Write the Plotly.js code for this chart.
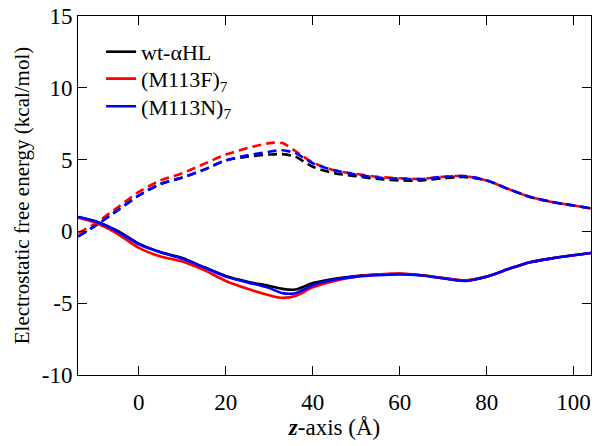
<!DOCTYPE html>
<html>
<head>
<meta charset="utf-8">
<script src="https://cdn.plot.ly/plotly-3.0.1.min.js"></script>
<style>
html,body{margin:0;padding:0;background:#fff;}
#chart{position:relative;z-index:1;width:602px;height:446px;}
#chart svg text{font-family:'Liberation Serif', serif !important;}
#fontwarm{position:absolute;z-index:0;left:200px;top:300px;font-family:'Liberation Serif';font-size:20px;color:#fff;}
</style>
</head>
<body>
<div id="fontwarm">wt-αHL Å 0123</div>
<div id="chart"></div>
<script>
const zAxis = [-14,-10,-5,0,5,10,15,20,25,30,33,36,40,45,50,55,60,65,70,75,80,85,90,95,100,104];

const seriesNames = ["wt-\u03b1HL", "(M113F)<sub>7</sub>", "(M113N)<sub>7</sub>"];
const seriesColors = ["#000000", "#ff0000", "#0000ff"];

// solid curves
const wtSolid   = [1.0,0.7,0.05,-0.85,-1.45,-1.85,-2.5,-3.1,-3.5,-3.8,-4.0,-4.05,-3.6,-3.3,-3.1,-3.0,-2.95,-3.05,-3.25,-3.42,-3.15,-2.62,-2.15,-1.88,-1.66,-1.5];
const m113fSolid= [0.95,0.6,-0.15,-1.15,-1.75,-2.1,-2.7,-3.45,-4.0,-4.45,-4.63,-4.5,-3.9,-3.45,-3.15,-3.0,-2.93,-3.05,-3.25,-3.42,-3.15,-2.62,-2.15,-1.88,-1.66,-1.5];
const m113nSolid= [1.0,0.7,0.0,-0.9,-1.45,-1.9,-2.5,-3.15,-3.55,-3.95,-4.3,-4.3,-3.75,-3.35,-3.15,-3.05,-3.0,-3.07,-3.27,-3.45,-3.15,-2.62,-2.15,-1.88,-1.66,-1.5];

// dashed curves
const wtDashed   = [-0.35,0.4,1.45,2.5,3.3,3.75,4.3,4.95,5.2,5.35,5.38,5.2,4.5,4.05,3.85,3.65,3.55,3.55,3.7,3.78,3.55,2.95,2.4,2.05,1.8,1.6];
const m113fDashed= [-0.1,0.55,1.65,2.75,3.55,4.05,4.7,5.35,5.8,6.15,6.15,5.6,4.8,4.25,4.0,3.8,3.7,3.65,3.8,3.85,3.55,2.95,2.4,2.05,1.8,1.6];
const m113nDashed= [-0.35,0.4,1.45,2.5,3.3,3.75,4.3,4.95,5.3,5.55,5.65,5.45,4.75,4.25,3.95,3.75,3.67,3.65,3.8,3.85,3.55,2.95,2.4,2.05,1.8,1.6];

const xTickVals = [0,20,40,60,80,100];
const xTickText = ["0","20","40","60","80","100"];
const yTickVals = [-10,-5,0,5,10,15];
const yTickText = ["-10","-5","0","5","10","15"];

const solidSeries = [wtSolid, m113fSolid, m113nSolid];
const dashedSeries = [wtDashed, m113fDashed, m113nDashed];
const legendIds = ['legend', 'legend2', 'legend3'];

const traceList = [];
for (let i = 0; i < 3; i++) {
  traceList.push({x: zAxis, y: dashedSeries[i], mode: 'lines', showlegend: false,
    line: {color: seriesColors[i], width: 2.6, dash: '9px,5px', shape: 'spline', smoothing: 0.8}});
}
for (let i = 0; i < 3; i++) {
  traceList.push({x: zAxis, y: solidSeries[i], mode: 'lines', name: seriesNames[i], legend: legendIds[i],
    line: {color: seriesColors[i], width: 2.6, shape: 'spline', smoothing: 0.8}});
}

const chartLayout = {
  width: 602, height: 446,
  margin: {l: 78, r: 11, t: 16, b: 71},
  showlegend: true,
  paper_bgcolor: '#ffffff',
  font: {family: 'Liberation Serif', color: '#000000'},
  legend:  {x: 0.045, y: 0.900, xanchor: 'left', yanchor: 'middle', bgcolor: 'rgba(0,0,0,0)', itemwidth: 30,
            font: {family: 'Liberation Serif', size: 22, color: '#000000'}},
  legend2: {x: 0.045, y: 0.825, xanchor: 'left', yanchor: 'middle', bgcolor: 'rgba(0,0,0,0)', itemwidth: 30,
            font: {family: 'Liberation Serif', size: 22, color: '#000000'}},
  legend3: {x: 0.045, y: 0.748, xanchor: 'left', yanchor: 'middle', bgcolor: 'rgba(0,0,0,0)', itemwidth: 30,
            font: {family: 'Liberation Serif', size: 22, color: '#000000'}},
  xaxis: {range: [-14, 104], tickvals: xTickVals, ticktext: xTickText, ticks: 'inside', ticklen: 9, tickcolor: '#000000',
    mirror: 'ticks', showline: true, linecolor: '#000000', linewidth: 1, showgrid: false, zeroline: false,
    tickfont: {family: 'Liberation Serif', size: 23, color: '#000000'}, ticklabelstandoff: 6,
    title: {text: '<b><i>z</i></b>-axis (\u00c5)', font: {family: 'Liberation Serif', size: 23, color: '#000000'}, standoff: 4}},
  yaxis: {range: [-10, 15], tickvals: yTickVals, ticktext: yTickText, ticks: 'inside', ticklen: 9, tickcolor: '#000000',
    mirror: 'ticks', showline: true, linecolor: '#000000', linewidth: 1, showgrid: false, zeroline: false,
    tickfont: {family: 'Liberation Serif', size: 23, color: '#000000'},
    title: {text: 'Electrostatic free energy (kcal/mol)', font: {family: 'Liberation Serif', size: 21, color: '#000000'}, standoff: 6}}
};
Plotly.newPlot('chart', traceList, chartLayout, {displayModeBar: false, staticPlot: true});
</script>
</body>
</html>
